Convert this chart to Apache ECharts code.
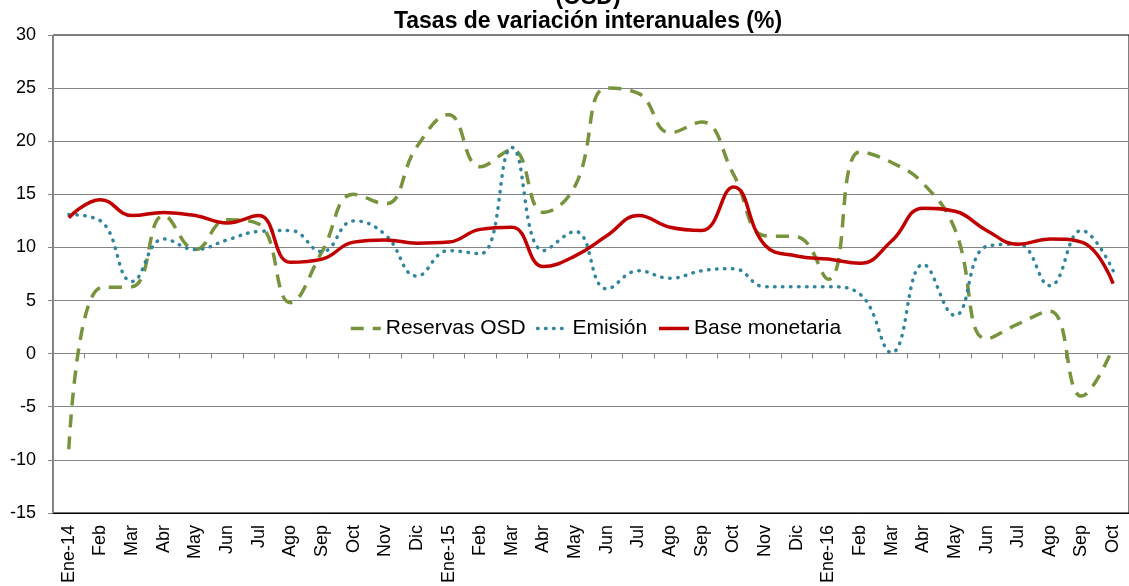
<!DOCTYPE html>
<html>
<head>
<meta charset="utf-8">
<script src="https://cdn.jsdelivr.net/npm/echarts@6.0.0/dist/echarts.min.js"></script>
<style>
  html, body { margin: 0; padding: 0; background: #fff; }
  #area { width: 1129px; height: 586px; }
</style>
</head>
<body>
<div id="area"></div>
<script>
var meses = ['Ene-14', 'Feb', 'Mar', 'Abr', 'May', 'Jun', 'Jul', 'Ago', 'Sep', 'Oct', 'Nov', 'Dic',
    'Ene-15', 'Feb', 'Mar', 'Abr', 'May', 'Jun', 'Jul', 'Ago', 'Sep', 'Oct', 'Nov', 'Dic',
    'Ene-16', 'Feb', 'Mar', 'Abr', 'May', 'Jun', 'Jul', 'Ago', 'Sep', 'Oct'];

// tasas de variacion interanual (%)
var reservasOSD = [-9, 6.2, 6.3, 13, 9.8, 12.6, 12.2, 4.8, 9.6, 15, 14.1, 19.5,
    22.5, 17.6, 19.2, 13.3, 15.8, 25, 24.5, 20.8, 21.8, 16.9, 11.1, 11,
    7, 19, 18, 16, 11.7, 1.4, 2.8, 4, -4, 0.6];
var emision = [13.1, 12.5, 6.8, 10.8, 9.8, 10.7, 11.5, 11.6, 9.6, 12.5, 11.2, 7.3,
    9.7, 9.4, 19.4, 9.7, 11.5, 6.1, 7.8, 7.1, 7.8, 8, 6.3, 6.3,
    6.3, 5.6, 0.1, 8.4, 3.6, 10.1, 10.3, 6.4, 11.6, 7.8];
var baseMonetaria = [12.8, 14.5, 13, 13.3, 13, 12.3, 13, 8.6, 8.9, 10.5, 10.7, 10.4,
    10.5, 11.7, 11.9, 8.2, 9.2, 11.1, 13, 11.9, 11.6, 15.7, 10.2, 9.2,
    8.9, 8.5, 10.6, 13.7, 13.4, 11.6, 10.3, 10.8, 10.5, 6.6];
var yMin = -15, yMax = 30, yPaso = 5;

var fuente = 'Liberation Sans, Arial, sans-serif';
var showChart = echarts.init(document.getElementById('area'));

var showOption = {
    animation: false,
    textStyle: { fontFamily: fuente },
    graphic: [
        {
            type: 'text', x: 588, y: -2,
            style: { text: '(OSD)', font: 'bold 23px ' + fuente, fill: '#000', align: 'center', verticalAlign: 'middle' }
        },
        {
            type: 'text', x: 588, y: 22,
            style: { text: 'Tasas de variación interanuales (%)', font: 'bold 23px ' + fuente, fill: '#000', align: 'center', verticalAlign: 'middle' }
        }
    ],
    legend: {
        left: 349,
        top: 318,
        padding: 0,
        itemWidth: 30,
        itemHeight: 14,
        itemGap: 10,
        itemStyle: { opacity: 0 },
        lineStyle: { width: 3.5 },
        textStyle: { fontSize: 21, color: '#000', fontFamily: fuente },
        data: ['Reservas OSD', 'Emisión', 'Base monetaria']
    },
    grid: {
        left: 53,
        right: -4,
        top: 35,
        bottom: 71,
        show: true,
        borderColor: '#000',
        borderWidth: 1
    },
    xAxis: [
        {
            type: 'category',
            data: meses,
            position: 'bottom',
            axisLine: { onZero: false, lineStyle: { color: '#000', width: 1 } },
            axisTick: { show: false },
            axisLabel: { interval: 0, rotate: 90, margin: 12, fontSize: 18, color: '#000', fontFamily: fuente }
        },
        {
            type: 'category',
            data: meses,
            position: 'top',
            axisLine: { onZero: true, lineStyle: { color: '#868686', width: 1 } },
            axisTick: { show: true, interval: 0, inside: true, length: 5, lineStyle: { color: '#868686' } },
            axisLabel: { show: false }
        }
    ],
    yAxis: {
        type: 'value',
        min: yMin,
        max: yMax,
        interval: yPaso,
        axisLine: { show: true, lineStyle: { color: '#868686' } },
        axisTick: { show: true, length: 5, lineStyle: { color: '#868686' } },
        axisLabel: { fontSize: 18, color: '#000', margin: 17, fontFamily: fuente },
        splitLine: { show: true, showMinLine: false, showMaxLine: false, lineStyle: { color: '#868686', width: 1 } }
    },
    series: [
        {
            name: 'Reservas OSD',
            type: 'line',
            data: reservasOSD,
            smooth: 0.45,
            symbol: 'none',
            lineStyle: { color: '#77933C', width: 3.5, type: [13, 9] },
            itemStyle: { color: '#77933C' }
        },
        {
            name: 'Emisión',
            type: 'line',
            data: emision,
            smooth: 0.45,
            symbol: 'none',
            lineStyle: { color: '#31859C', width: 3.5, type: [0.5, 7.5], cap: 'round' },
            itemStyle: { color: '#31859C' }
        },
        {
            name: 'Base monetaria',
            type: 'line',
            data: baseMonetaria,
            smooth: 0.45,
            symbol: 'none',
            lineStyle: { color: '#C00000', width: 3.5 },
            itemStyle: { color: '#C00000' }
        }
    ]
};
showChart.setOption(showOption);
</script>
</body>
</html>
